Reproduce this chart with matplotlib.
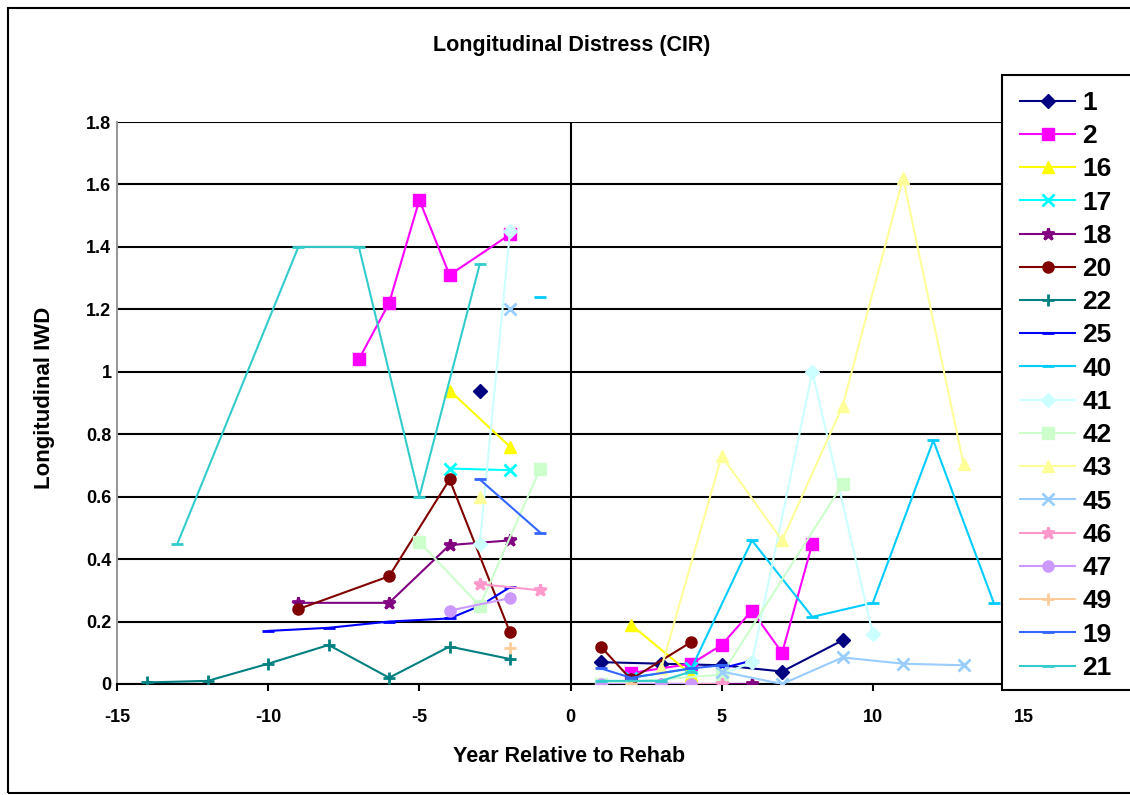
import numpy as np
import matplotlib
matplotlib.use("Agg")
from matplotlib import pyplot as plt
from matplotlib.patches import Rectangle

nan = np.nan

# section labels (legend order)
labels = ["1", "2", "16", "17", "18", "20", "22", "25", "40",
          "41", "42", "43", "45", "46", "47", "49", "19", "21"]

# year relative to rehab / longitudinal IWD for each section (nan = gap)
x_1 = [-3, nan, 1, 3, 5, 7, 9]
y_1 = [0.94, nan, 0.07, 0.065, 0.06, 0.04, 0.14]
x_2 = [-7, -6, -5, -4, -2, nan, 2, 4, 5, 6, 7, 8]
y_2 = [1.04, 1.22, 1.55, 1.31, 1.44, nan, 0.035, 0.065, 0.125, 0.235, 0.10, 0.45]
x_16 = [-4, -2, nan, 2, 4]
y_16 = [0.94, 0.76, nan, 0.19, 0.03]
x_17 = [-4, -2, nan, 2, 4]
y_17 = [0.69, 0.685, nan, 0.02, 0.05]
x_18 = [-9, -6, -4, -2, nan, 5, 6]
y_18 = [0.26, 0.26, 0.445, 0.46, nan, 0.0, 0.0]
x_20 = [-9, -6, -4, -2, nan, 1, 2, 4]
y_20 = [0.24, 0.345, 0.655, 0.165, nan, 0.12, 0.015, 0.135]
x_22 = [-14, -12, -10, -8, -6, -4, -2]
y_22 = [0.005, 0.01, 0.065, 0.125, 0.02, 0.12, 0.08]
x_25 = [-10, -8, -6, -4, -3, -2, nan, 5, 6]
y_25 = [0.17, 0.18, 0.2, 0.21, 0.25, 0.31, nan, 0.05, 0.075]
x_40 = [-1, nan, 4, 6, 8, 10, 12, 14]
y_40 = [1.24, nan, 0.05, 0.46, 0.215, 0.26, 0.78, 0.26]
x_41 = [-3, -2, nan, 5, 6, 8, 10]
y_41 = [0.45, 1.45, nan, 0.03, 0.07, 1.0, 0.16]
x_42 = [-5, -3, -1, nan, 1, 5, 9]
y_42 = [0.455, 0.25, 0.69, nan, 0.0, 0.03, 0.64]
x_43 = [-3, nan, 3, 5, 7, 9, 11, 13]
y_43 = [0.6, nan, 0.05, 0.73, 0.46, 0.89, 1.62, 0.705]
x_45 = [-2, nan, 5, 7, 9, 11, 13]
y_45 = [1.2, nan, 0.04, 0.0, 0.085, 0.065, 0.06]
x_46 = [-3, -1, nan, 3, 5]
y_46 = [0.32, 0.30, nan, 0.0, 0.0]
x_47 = [-4, -2, nan, 1, 3, 4]
y_47 = [0.235, 0.275, nan, 0.0, 0.0, 0.0]
x_49 = [-2, nan, 2]
y_49 = [0.115, nan, 0.0]
x_19 = [-3, -1, nan, 1, 2, 4, 5]
y_19 = [0.655, 0.485, nan, 0.05, 0.02, 0.05, 0.06]
x_21 = [-13, -9, -7, -5, -3, nan, 1, 3, 4]
y_21 = [0.45, 1.4, 1.4, 0.6, 1.345, nan, 0.01, 0.01, 0.04]

xs = [x_1, x_2, x_16, x_17, x_18, x_20, x_22, x_25, x_40,
      x_41, x_42, x_43, x_45, x_46, x_47, x_49, x_19, x_21]
ys = [y_1, y_2, y_16, y_17, y_18, y_20, y_22, y_25, y_40,
      y_41, y_42, y_43, y_45, y_46, y_47, y_49, y_19, y_21]

# excel-ish styles: colour, marker, marker size
styles = [
    ("#000080", "D", 7), ("#ff00ff", "s", 8), ("#ffff00", "^", 9),
    ("#00ffff", "x", 8), ("#800080", "*", 9), ("#800000", "o", 8),
    ("#008080", "+", 9), ("#0000ff", "_", 8), ("#00ccff", "_", 9),
    ("#ccffff", "D", 7), ("#ccffcc", "s", 8), ("#ffff99", "^", 9),
    ("#99ccff", "x", 8), ("#ff99cc", "*", 9), ("#cc99ff", "o", 8),
    ("#ffcc99", "+", 9), ("#3366ff", "_", 8), ("#33cccc", "_", 9),
]

plt.rcParams['font.family'] = ['Liberation Sans', 'DejaVu Sans']
plt.rcParams['axes.unicode_minus'] = False

fig = plt.figure(figsize=(11.3, 7.95), dpi=100)
ax = fig.add_axes([117/1130, 1-684/795, 907/1130, (684-122)/795])

handles = []
for x, y, lab, (c, m, ms) in zip(xs, ys, labels, styles):
    h, = ax.plot(x, y, color=c, marker=m, markersize=ms, lw=1.5,
                 markeredgewidth=2 if m in "x+_*" else 1,
                 markeredgecolor=c, label=lab, zorder=3)
    handles.append(h)

ax.set_xlim(-15, 15)
ax.set_ylim(0, 1.8)
ax.set_yticks(np.arange(0, 1.81, 0.2))
ax.set_yticklabels(["0", "0.2", "0.4", "0.6", "0.8", "1", "1.2", "1.4", "1.6", "1.8"])
ax.set_xticks(range(-15, 16, 5))
ax.yaxis.grid(True, color="black", lw=1.5)
ax.set_axisbelow(True)
ax.axvline(0, color="black", lw=1.5, zorder=2)

for s in ["top", "right"]:
    ax.spines[s].set_visible(False)
ax.spines["left"].set_color("#999999")
ax.spines["left"].set_linewidth(1.5)
ax.spines["bottom"].set_linewidth(1.5)

ax.tick_params(axis="y", length=0, pad=4, labelsize=13)
ax.tick_params(axis="x", direction="out", length=5, width=1.5, pad=13, labelsize=13)
for t in ax.get_xticklabels() + ax.get_yticklabels():
    t.set_fontweight("bold")

fig.text(572/1130, 1-45/795, "Longitudinal Distress (CIR)", ha="center", va="center",
         fontsize=15.5, fontweight="bold")
fig.text(569/1130, 1-757/795, "Year Relative to Rehab", ha="center", va="center",
         fontsize=15.5, fontweight="bold")
fig.text(45/1130, 1-398/795, "Longitudinal IWD", ha="center", va="center",
         rotation=90, fontsize=16, fontweight="bold")

# legend box runs past the right edge of the picture
fig.patches.append(Rectangle((1002/1130, 1-690/795), 0.2, 615/795, transform=fig.transFigure,
                             facecolor="white", edgecolor="black", lw=1.5, zorder=4))
leg = fig.legend(handles=handles, loc="upper left", bbox_to_anchor=(1004/1130, 1-75/795),
                 prop={"size": 19, "weight": "bold"}, frameon=False,
                 handlelength=2.1, handletextpad=0.27, labelspacing=0.35,
                 borderpad=0.6, borderaxespad=0)
leg.set_zorder(5)

# chart area border
fig.patches.append(Rectangle((8/1130, 2/795), 1.2, 785/795, transform=fig.transFigure,
                             fill=False, edgecolor="black", lw=1.5))

fig.savefig("out.png", dpi=100)
